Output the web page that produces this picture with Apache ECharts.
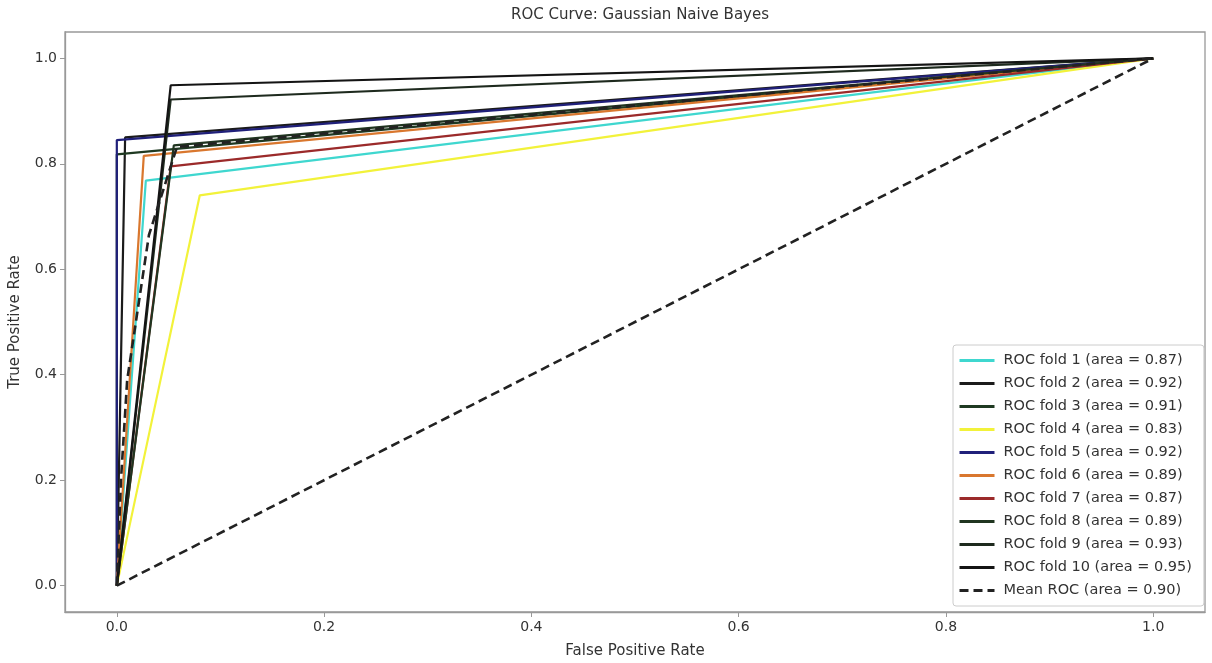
<!DOCTYPE html>
<html>
<head>
<meta charset="utf-8">
<script src="https://cdn.jsdelivr.net/npm/echarts@6/dist/echarts.min.js"></script>
<style>
  html, body { margin: 0; padding: 0; background: #fff; }
  #chart { width: 1212px; height: 663px; }
</style>
</head>
<body>
<div id="chart"></div>
<script>
// ROC points: each fold goes (0,0) -> corner -> (1,1)
var foldNames = ['ROC fold 1 (area = 0.87)', 'ROC fold 2 (area = 0.92)', 'ROC fold 3 (area = 0.91)',
    'ROC fold 4 (area = 0.83)', 'ROC fold 5 (area = 0.92)', 'ROC fold 6 (area = 0.89)',
    'ROC fold 7 (area = 0.87)', 'ROC fold 8 (area = 0.89)', 'ROC fold 9 (area = 0.93)',
    'ROC fold 10 (area = 0.95)'];
var foldFpr = [0.028, 0.008, 0.0, 0.080, 0.0, 0.026, 0.052, 0.055, 0.052, 0.052];
var foldTpr = [0.768, 0.850, 0.818, 0.740, 0.845, 0.815, 0.795, 0.835, 0.922, 0.949];
var foldColors = ['#3fd7cf', '#1b1b1b', '#1f3a22', '#f2f23a', '#20207a', '#d9772e',
    '#9b2a2a', '#203520', '#1e2a1e', '#141414'];

var meanName = 'Mean ROC (area = 0.90)';
var meanFpr = [0, 0.004, 0.010, 0.031, 0.058, 1];
var meanTpr = [0, 0.20, 0.39, 0.665, 0.832, 1];

var chanceFpr = [0, 1];
var chanceTpr = [0, 1];

var tickValues = [0, 0.2, 0.4, 0.6, 0.8, 1.0];

var fontFamily = '"DejaVu Sans", sans-serif';

function pairs(xs, ys) {
    var out = [];
    for (var i = 0; i < xs.length; i++) { out.push([xs[i], ys[i]]); }
    return out;
}

var series = [];
for (var i = 0; i < foldNames.length; i++) {
    series.push({
        name: foldNames[i],
        type: 'line',
        symbol: 'none',
        silent: true,
        lineStyle: { color: foldColors[i], width: 2.2 },
        itemStyle: { color: foldColors[i] },
        data: [[0, 0], [foldFpr[i], foldTpr[i]], [1, 1]]
    });
}
series.push({
    name: 'Chance',
    type: 'line',
    symbol: 'none',
    silent: true,
    lineStyle: { color: '#222', width: 2.6, type: [9, 5] },
    itemStyle: { color: '#222' },
    data: pairs(chanceFpr, chanceTpr)
});
series.push({
    name: meanName,
    type: 'line',
    symbol: 'none',
    silent: true,
    z: 5,
    lineStyle: { color: '#222', width: 2.6, type: [9, 5] },
    itemStyle: { color: '#222' },
    data: pairs(meanFpr, meanTpr)
});

var axisCommon = {
    type: 'value',
    min: -0.05,
    max: 1.05,
    axisLine: { show: true, onZero: false, lineStyle: { color: '#999', width: 1.3 } },
    axisTick: { show: true, length: 5, customValues: tickValues, lineStyle: { color: '#999' } },
    axisLabel: {
        customValues: tickValues,
        color: '#333',
        fontSize: 14,
        fontFamily: fontFamily,
        formatter: function (v) { return v.toFixed(1); }
    },
    splitLine: { show: false },
    nameLocation: 'middle',
    nameTextStyle: { color: '#333', fontSize: 15, fontFamily: fontFamily }
};

var chart = echarts.init(document.getElementById('chart'));
chart.setOption({
    backgroundColor: '#fff',
    animation: false,
    grid: {
        left: 65, right: 7, top: 32, bottom: 51,
        containLabel: false,
        outerBoundsMode: 'none',
        show: true, borderColor: '#999', borderWidth: 1.3, backgroundColor: '#fff'
    },
    title: {
        text: 'ROC Curve: Gaussian Naive Bayes',
        left: 635,
        top: 3,
        textAlign: 'center',
        textStyle: { color: '#333', fontSize: 15, fontWeight: 'normal', fontFamily: fontFamily }
    },
    legend: {
        data: foldNames.concat([meanName]),
        orient: 'vertical',
        left: 953,
        top: 345,
        padding: [8, 12, 8, 5],
        itemWidth: 35,
        itemHeight: 14,
        itemGap: 8,
        backgroundColor: '#fff',
        borderColor: '#ccc',
        borderWidth: 1,
        borderRadius: 3,
        selectedMode: false,
        itemStyle: { opacity: 0, borderWidth: 0 },
        lineStyle: { width: 3 },
        textStyle: { color: '#333', fontSize: 14.5, lineHeight: 14, fontFamily: fontFamily, padding: [0, 0, 0, 4] }
    },
    xAxis: Object.assign({}, axisCommon, { name: 'False Positive Rate', nameGap: 32 }),
    yAxis: Object.assign({}, axisCommon, { name: 'True Positive Rate', nameGap: 42 }),
    series: series
});
</script>
</body>
</html>
